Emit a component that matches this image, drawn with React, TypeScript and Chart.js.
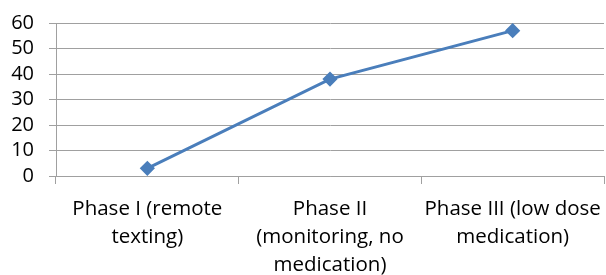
import React, { useEffect, useRef } from "react";
import { Chart, registerables } from "chart.js";

Chart.register(...registerables);

const categories: string[][] = [
  ["Phase I (remote", "texting)"],
  ["Phase II", "(monitoring, no", "medication)"],
  ["Phase III (low dose", "medication)"],
];
const values: number[] = [3, 38, 57];
const yTicks = { min: 0, max: 60, step: 10 };

export default function App() {
  const ref = useRef<HTMLCanvasElement | null>(null);
  useEffect(() => {
    document.body.style.margin = "0";
    const ctx = ref.current!;
    const font = { family: "'Open Sans', sans-serif", size: 20 };
    const chart = new Chart(ctx, {
      type: "line",
      data: {
        labels: categories,
        datasets: [
          {
            data: values,
            borderColor: "#4a7ebb",
            backgroundColor: "#4a7ebb",
            borderWidth: 3,
            pointStyle: "rectRot",
            pointRadius: 5.5,
            pointHoverRadius: 5.5,
            tension: 0,
          },
        ],
      },
      options: {
        responsive: false,
        animation: false,
        devicePixelRatio: 1,
        layout: { autoPadding: false, padding: { top: 23, right: 2, bottom: 0, left: 0 } },
        plugins: { legend: { display: false }, tooltip: { enabled: false } },
        scales: {
          x: {
            offset: true,
            afterFit: (s: any) => {
              s.height = 99;
            },
            grid: {
              offset: true,
              drawOnChartArea: false,
              drawTicks: true,
              tickLength: 19,
              tickBorderDash: [7, 40],
              color: "#a0a0a0",
            },
            border: { color: "#a0a0a0" },
            ticks: {
              color: "#000",
              font: { family: font.family, size: 20.5, lineHeight: 1.37 },
              padding: 0,
              maxRotation: 0,
              autoSkip: false,
            },
          },
          y: {
            min: yTicks.min,
            max: yTicks.max,
            afterFit: (s: any) => {
              s.width = 56;
              s.paddingTop = 0;
              s.paddingBottom = 0;
            },
            grid: { color: "#a0a0a0", tickLength: 7 },
            border: { color: "#a0a0a0" },
            ticks: {
              stepSize: yTicks.step,
              autoSkip: false,
              color: "#000",
              font,
              padding: 15,
            },
          },
        },
      },
    });
    return () => chart.destroy();
  }, []);
  return (
    <div style={{ position: "absolute", left: 0, top: 0, width: 606, height: 275 }}>
      <canvas ref={ref} width={606} height={275} style={{ display: "block" }} />
    </div>
  );
}
